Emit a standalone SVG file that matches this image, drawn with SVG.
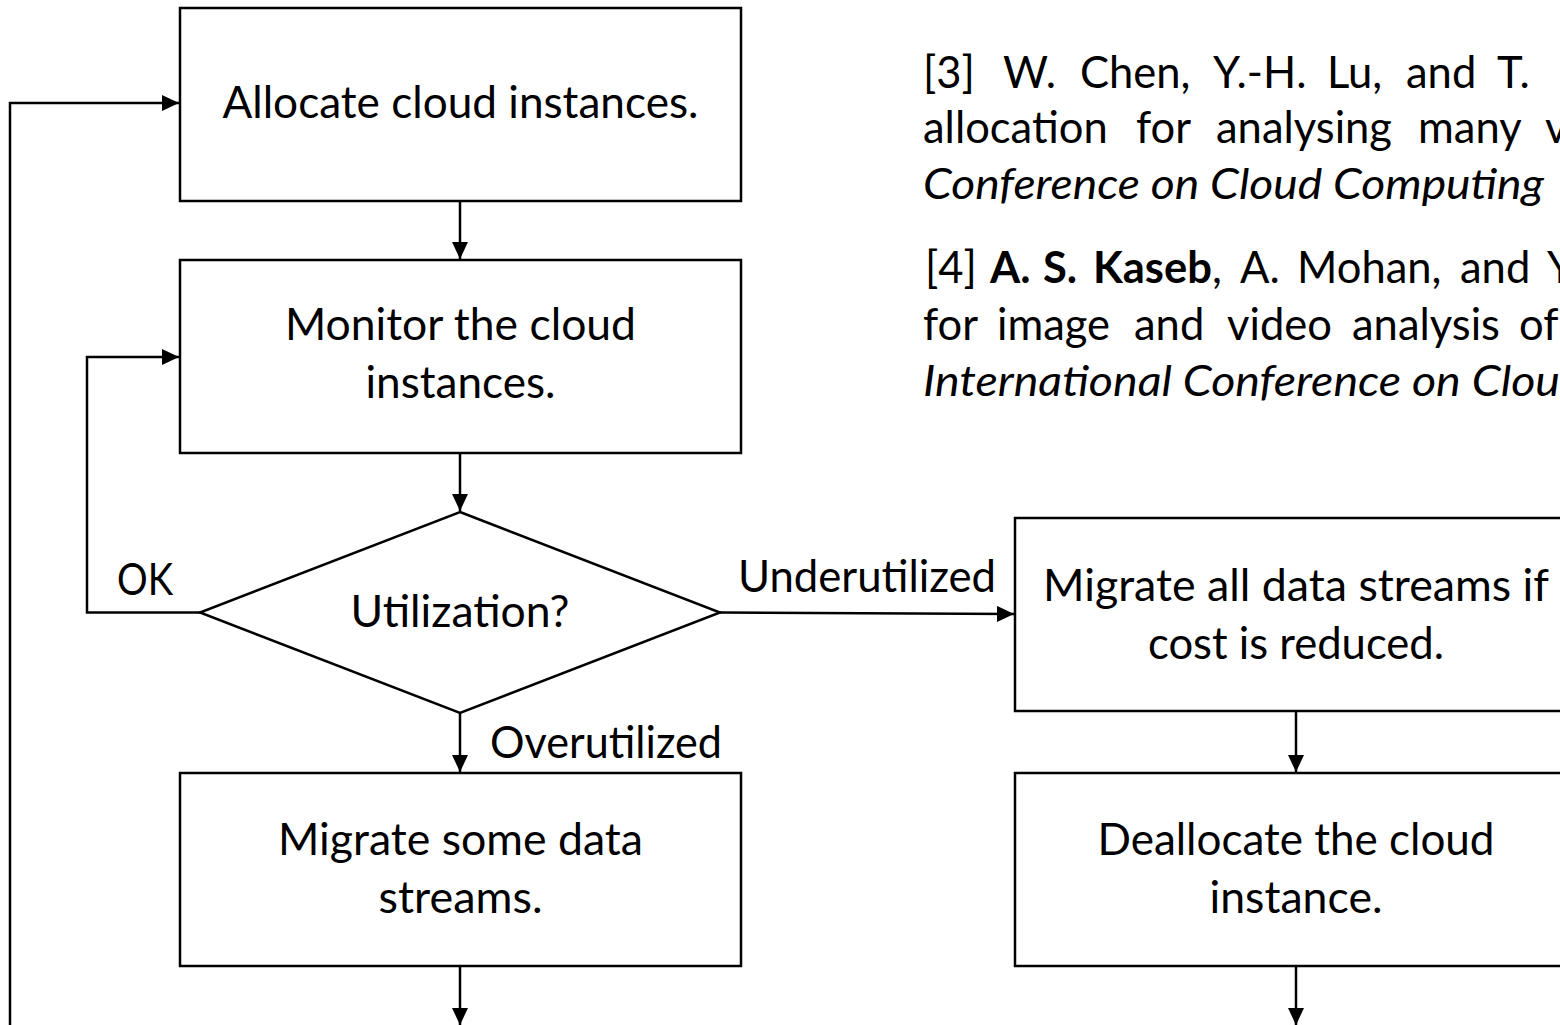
<svg xmlns="http://www.w3.org/2000/svg" width="1560" height="1025" viewBox="0 0 1560 1025">
  <style>
    .box { fill: #ffffff; stroke: #000000; stroke-width: 2.5; }
    .conn { fill: none; stroke: #000000; stroke-width: 2.5; }
    .lbl { font-family: Lato, "Liberation Sans", sans-serif; font-size: 43.5px; fill: #000000; text-anchor: middle; }
    .edge { font-family: Lato, "Liberation Sans", sans-serif; font-size: 43.5px; fill: #000000; }
    .ref { font-family: Lato, "Liberation Sans", sans-serif; font-size: 43.5px; fill: #000000; }
    .it { font-style: italic; }
    .b { font-weight: bold; }
  </style>
  <defs>
    <marker id="arrow" markerUnits="userSpaceOnUse" markerWidth="17" markerHeight="16" refX="17" refY="8" orient="auto">
      <path d="M0,0 L17,8 L0,16 Z" fill="#000000"/>
    </marker>
  </defs>

  <rect width="1560" height="1025" fill="#ffffff"/>

  <!-- connectors -->
  <g id="connectors">
    <path class="conn" d="M10,1025 V103 H179" marker-end="url(#arrow)"/>
    <path class="conn" d="M460,201 V259" marker-end="url(#arrow)"/>
    <path class="conn" d="M460,453 V511" marker-end="url(#arrow)"/>
    <path class="conn" d="M200,612.5 H87 V357 H179" marker-end="url(#arrow)"/>
    <path class="conn" d="M720,612.5 L1014,614" marker-end="url(#arrow)"/>
    <path class="conn" d="M460,713 V772" marker-end="url(#arrow)"/>
    <path class="conn" d="M1296,711 V772" marker-end="url(#arrow)"/>
    <path class="conn" d="M460,966 V1025" marker-end="url(#arrow)"/>
    <path class="conn" d="M1296,966 V1025" marker-end="url(#arrow)"/>
  </g>

  <!-- edge labels -->
  <g id="edge-labels">
    <text class="edge" x="117" y="595" textLength="56" lengthAdjust="spacingAndGlyphs">OK</text>
    <text class="edge" x="738" y="592" textLength="258" lengthAdjust="spacingAndGlyphs">Underutilized</text>
    <text class="edge" x="490" y="758" textLength="232" lengthAdjust="spacingAndGlyphs">Overutilized</text>
  </g>

  <!-- flowchart nodes -->
  <g id="allocate">
    <rect class="box" x="180" y="8" width="561" height="193"/>
    <text class="lbl" x="460.5" y="118" textLength="476" lengthAdjust="spacingAndGlyphs">Allocate cloud instances.</text>
  </g>

  <g id="monitor">
    <rect class="box" x="180" y="260" width="561" height="193"/>
    <text class="lbl" x="460.5" y="340" textLength="351" lengthAdjust="spacingAndGlyphs">Monitor the cloud</text>
    <text class="lbl" x="460.5" y="398" textLength="190" lengthAdjust="spacingAndGlyphs">instances.</text>
  </g>

  <g id="utilization">
    <polygon class="box" points="460,512 720,612.5 460,713 200,612.5"/>
    <text class="lbl" x="460" y="627" textLength="219" lengthAdjust="spacingAndGlyphs">Utilization?</text>
  </g>

  <g id="migrate-some">
    <rect class="box" x="180" y="773" width="561" height="193"/>
    <text class="lbl" x="460.5" y="855" textLength="365" lengthAdjust="spacingAndGlyphs">Migrate some data</text>
    <text class="lbl" x="460.5" y="913" textLength="164" lengthAdjust="spacingAndGlyphs">streams.</text>
  </g>

  <g id="migrate-all">
    <rect class="box" x="1015" y="518" width="561" height="193"/>
    <text class="lbl" x="1296" y="601" textLength="506" lengthAdjust="spacingAndGlyphs">Migrate all data streams if</text>
    <text class="lbl" x="1296" y="659" textLength="296" lengthAdjust="spacingAndGlyphs">cost is reduced.</text>
  </g>

  <g id="deallocate">
    <rect class="box" x="1015" y="773" width="561" height="193"/>
    <text class="lbl" x="1296" y="855" textLength="397" lengthAdjust="spacingAndGlyphs">Deallocate the cloud</text>
    <text class="lbl" x="1296" y="913" textLength="173" lengthAdjust="spacingAndGlyphs">instance.</text>
  </g>

  <!-- reference list (justified, runs off the right edge) -->
  <g id="references">
    <text class="ref" y="88"><tspan x="923">[3]</tspan><tspan x="1003">W.</tspan><tspan x="1080">Chen,</tspan><tspan x="1213">Y.-H.</tspan><tspan x="1327">Lu,</tspan><tspan x="1406">and</tspan><tspan x="1497">T.</tspan></text>
    <text class="ref" y="143"><tspan x="923">allocation</tspan><tspan x="1136">for</tspan><tspan x="1216">analysing</tspan><tspan x="1418">many</tspan><tspan x="1545">v</tspan></text>
    <text class="ref it" x="923" y="199" textLength="621" lengthAdjust="spacingAndGlyphs">Conference on Cloud Computing</text>
    <text class="ref" y="283"><tspan x="925">[4]</tspan><tspan x="990" class="b">A.</tspan><tspan x="1043" class="b">S.</tspan><tspan x="1093" class="b">Kaseb</tspan><tspan>,</tspan><tspan x="1240">A.</tspan><tspan x="1297">Mohan,</tspan><tspan x="1460">and</tspan><tspan x="1547">Y</tspan></text>
    <text class="ref" y="340"><tspan x="923">for</tspan><tspan x="997">image</tspan><tspan x="1134">and</tspan><tspan x="1227">video</tspan><tspan x="1352">analysis</tspan><tspan x="1519">of</tspan></text>
    <text class="ref it" x="923" y="396" textLength="637" lengthAdjust="spacingAndGlyphs">International Conference on Clou</text>
  </g>
</svg>
